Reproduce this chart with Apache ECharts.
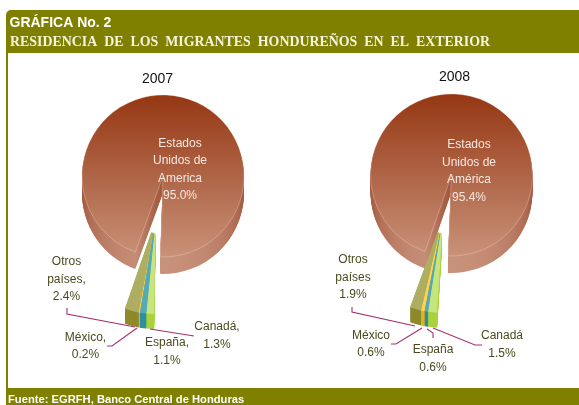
<!DOCTYPE html>
<html>
<head>
<meta charset="utf-8">
<style>
  html, body { margin: 0; padding: 0; background: #fff; }
  #main { width: 579px; height: 405px; }
</style>
<script src="https://cdn.jsdelivr.net/npm/echarts@6/dist/echarts.min.js"></script>
</head>
<body>
<div id="main"></div>
<script>
// datos
var names2007 = ['Estados\nUnidos de\nAmerica', 'Otros\npaíses,', 'México,', 'España,', 'Canadá,'];
var names2008 = ['Estados\nUnidos de\nAmérica', 'Otros\npaíses', 'México', 'España', 'Canadá'];
var values2007 = [95.0, 2.4, 0.2, 1.1, 1.3];
var values2008 = [95.4, 1.9, 0.6, 0.6, 1.5];

// colores: cara superior y cara lateral de cada rebanada
var topColors = ['#000', '#ADAE62', '#FFD34D', '#55AABA', '#C6E57E'];
var sideColors = ['#000', '#8E8A2C', '#E8B020', '#2F8E9C', '#A9D23C'];
var TRANSPARENT = 'rgba(0,0,0,0)';
var LEADER = '#A5306F';

var mainDepth = 17, wedgeDepth = 15;

function mainTop() {
    return new echarts.graphic.LinearGradient(0, 0, 0, 1, [
        { offset: 0, color: '#953713' },
        { offset: 1, color: '#C99279' }
    ]);
}
function mainSide() {
    return new echarts.graphic.LinearGradient(0, 0, 0, 1, [
        { offset: 0, color: '#953713' },
        { offset: 0.6, color: '#A65E44' },
        { offset: 1, color: '#C8917A' }
    ]);
}

// pie "extruido": una capa por pixel de profundidad
function layer(values, names, cx, cy, inner, outer, start, styleFn, z) {
    return {
        type: 'pie',
        silent: true,
        animation: false,
        z: z,
        clockwise: false,
        startAngle: start,
        center: [cx, cy],
        radius: [inner, outer],
        label: { show: false },
        labelLine: { show: false },
        data: values.map(function (v, i) {
            return { name: names[i], value: v, itemStyle: styleFn(i) };
        })
    };
}

function buildPie(values, names, conf) {
    var out = [];
    var d;
    for (d = mainDepth; d >= 1; d--) {
        out.push(layer(values, names, conf.cx, conf.cy + d, 0, conf.r, conf.start, function (i) {
            return { color: i === 0 ? mainSide() : TRANSPARENT };
        }, 2));
    }
    out.push(layer(values, names, conf.cx, conf.cy, 0, conf.r, conf.start, function (i) {
        return i === 0
            ? { color: mainTop(), borderColor: 'rgba(255,235,225,0.4)', borderWidth: 0.7 }
            : { color: TRANSPARENT };
    }, 3));
    for (d = wedgeDepth; d >= 1; d--) {
        out.push(layer(values, names, conf.wx, conf.wy + d, conf.wi, conf.wr, conf.wstart, function (i) {
            return { color: i === 0 ? TRANSPARENT : sideColors[i] };
        }, 4));
    }
    out.push(layer(values, names, conf.wx, conf.wy, conf.wi, conf.wr, conf.wstart, function (i) {
        return { color: i === 0 ? TRANSPARENT : topColors[i] };
    }, 5));

    // serie invisible que solo lleva las etiquetas
    out.push({
        type: 'pie',
        silent: true,
        animation: false,
        z: 7,
        clockwise: false,
        avoidLabelOverlap: false,
        startAngle: conf.wstart,
        center: [conf.wx, conf.wy + wedgeDepth],
        radius: [conf.wi, conf.wr],
        itemStyle: { color: TRANSPARENT },
        label: {
            show: true,
            position: 'outside',
            fontFamily: 'Liberation Sans',
            fontSize: 12,
            lineHeight: 17.5,
            align: 'center',
            color: '#4A4A20',
            formatter: function (p) { return p.name + '\n' + p.value.toFixed(1) + '%'; }
        },
        labelLine: { show: false },
        labelLayout: function (p) {
            var pos = conf.labels[p.dataIndex];
            return { x: pos[0], y: pos[1], align: 'center', verticalAlign: 'middle' };
        },
        data: values.map(function (v, i) {
            var item = { name: names[i], value: v };
            if (i === 0) item.label = { color: '#F6E8E1' };
            return item;
        })
    });
    return out;
}

var conf2007 = {
    cx: 163, cy: 176, r: 81, start: 268,
    wx: 155.8, wy: 219, wi: 14, wr: 95, wstart: 269,
    labels: [[180, 169.5], [66.5, 279.5], [85.5, 346], [167, 351.5], [217, 335.5]],
    leaders: [
        [[67, 308], [67, 314], [135, 327]],
        [[107, 346], [112, 346], [137, 328]],
        [[194, 336], [150, 329]]
    ]
};
var conf2008 = {
    cx: 451.5, cy: 175, r: 81, start: 267.5,
    wx: 443, wy: 217, wi: 16, wr: 96, wstart: 266.5,
    labels: [[469, 171], [353, 277.5], [371, 344], [433, 358.5], [502, 344.5]],
    leaders: [
        [[352, 307], [352, 312], [415, 326]],
        [[391, 344], [396, 344], [422, 328]],
        [[433, 338], [433, 333], [427, 329]],
        [[482, 345], [475, 345], [433, 328]]
    ]
};

function leaderGraphics(conf) {
    return conf.leaders.map(function (pts) {
        return {
            type: 'polyline',
            z: 6,
            shape: { points: pts },
            style: { stroke: LEADER, lineWidth: 1.1, fill: null }
        };
    });
}

var chart = echarts.init(document.getElementById('main'), null, { renderer: 'canvas' });
chart.setOption({
    backgroundColor: '#fff',
    animation: false,
    title: [
        { text: 'GRÁFICA No. 2', left: 9.5, top: 16, textStyle: { color: '#fff', fontFamily: 'Liberation Sans', fontSize: 14, fontWeight: 'bold' }, padding: 0 },
        { text: 'RESIDENCIA\u00a0 DE\u00a0 LOS\u00a0 MIGRANTES\u00a0 HONDUREÑOS\u00a0 EN\u00a0 EL\u00a0 EXTERIOR', left: 10, top: 35, textStyle: { color: '#F7F3DC', fontFamily: 'Liberation Serif', fontSize: 13.9, fontWeight: 'bold' }, padding: 0 },
        { text: '2007', left: 142, top: 72, textStyle: { color: '#111', fontFamily: 'Liberation Sans', fontSize: 14, fontWeight: 'normal' }, padding: 0 },
        { text: '2008', left: 439, top: 70, textStyle: { color: '#111', fontFamily: 'Liberation Sans', fontSize: 14, fontWeight: 'normal' }, padding: 0 },
        { text: 'Fuente: EGRFH, Banco Central de Honduras', left: 8, top: 394, textStyle: { color: '#fff', fontFamily: 'Liberation Sans', fontSize: 11.2, fontWeight: 'bold' }, padding: 0 }
    ],
    graphic: [
        { type: 'rect', z: 0, shape: { x: 6, y: 10, width: 573, height: 43, r: [5, 0, 0, 0] }, style: { fill: '#808000' } },
        { type: 'rect', z: 0, shape: { x: 6, y: 53, width: 2, height: 335 }, style: { fill: '#808000' } },
        { type: 'rect', z: 0, shape: { x: 6, y: 388, width: 573, height: 17 }, style: { fill: '#808000' } }
    ].concat(leaderGraphics(conf2007), leaderGraphics(conf2008)),
    series: buildPie(values2007, names2007, conf2007).concat(buildPie(values2008, names2008, conf2008))
});
</script>
</body>
</html>
